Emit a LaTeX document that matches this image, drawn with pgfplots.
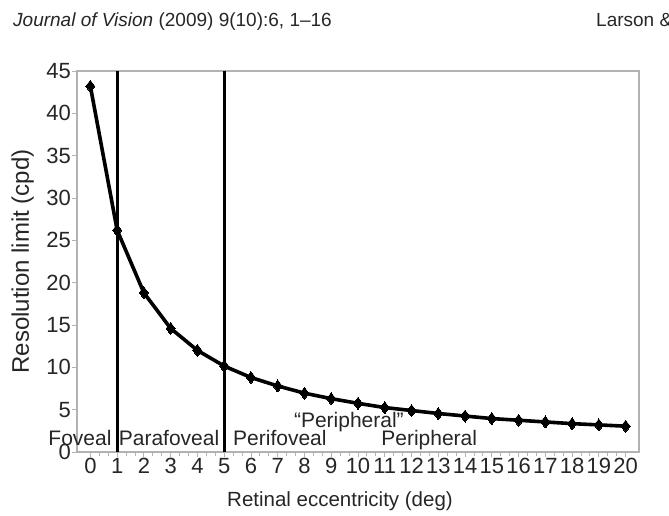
\documentclass[border=0pt]{standalone}
\usepackage{fontspec}
\setmainfont{Liberation Sans}
\usepackage{pgfplots}
\pgfplotsset{compat=1.18}

\pgfplotstableread{
ecc  res
0    43.2
1    26.2
2    18.8
3    14.6
4    12.0
5    10.15
6    8.8
7    7.8
8    6.95
9    6.3
10   5.75
11   5.25
12   4.9
13   4.55
14   4.25
15   3.95
16   3.75
17   3.55
18   3.35
19   3.2
20   3.05
}\resdata

\begin{document}
\begin{tikzpicture}
\path[use as bounding box] (0,0) rectangle (669pt,-516pt);
% running header of the page
\node[anchor=base west, inner sep=0, text=black!85, font=\fontsize{19}{19}\selectfont]
  at (13pt,-27pt) {\textit{Journal of Vision} (2009) 9(10):6, 1--16};
\node[anchor=base west, inner sep=0, text=black!85, font=\fontsize{19}{19}\selectfont]
  at (596pt,-27pt) {Larson \&};

\begin{axis}[
    at={(77pt,-452pt)}, anchor=south west,
    scale only axis, width=562pt, height=381pt,
    xmin=-0.5, xmax=20.5, ymin=0, ymax=45,
    xtick={0,...,20}, ytick={0,5,...,45},
    minor x tick num=2,
    tick align=outside, tick pos=left,
    major tick length=5pt, minor tick length=4pt,
    axis line style={gray!60, line width=1.3pt},
    every tick/.style={gray!60, line width=0.9pt},
    /pgf/number format/assume math mode=true,
    ticklabel style={font=\fontsize{22}{22}\selectfont, text=black!85},
    xticklabel style={inner sep=1pt},
    yticklabel style={inner sep=1pt},
    xlabel={Retinal eccentricity (deg)},
    ylabel={Resolution limit (cpd)},
    xlabel style={font=\fontsize{20.5}{20.5}\selectfont, text=black!85, yshift=-13pt, xshift=-18pt},
    ylabel style={font=\fontsize{24}{24}\selectfont, text=black!85, yshift=8pt},
    clip=false,
]
\addplot[black, line width=3pt] coordinates {(1,0) (1,45)};
\addplot[black, line width=3pt] coordinates {(5,0) (5,45)};
\addplot[black, line width=3.6pt, mark=diamond*, mark size=6pt,
         mark options={solid, line width=0pt}] table[x=ecc, y=res] {\resdata};

\begin{scope}[every node/.style={anchor=base, inner sep=0, text=black!85, font=\fontsize{21}{21}\selectfont}]
\node at (axis cs:-0.39,0.8) {Foveal};
\node at (axis cs:2.94,0.8) {Parafoveal};
\node at (axis cs:7.08,0.8) {Perifoveal};
\node at (axis cs:12.66,0.8) {Peripheral};
\node at (axis cs:9.66,2.95) {``Peripheral''};
\end{scope}
\end{axis}
\end{tikzpicture}
\end{document}
